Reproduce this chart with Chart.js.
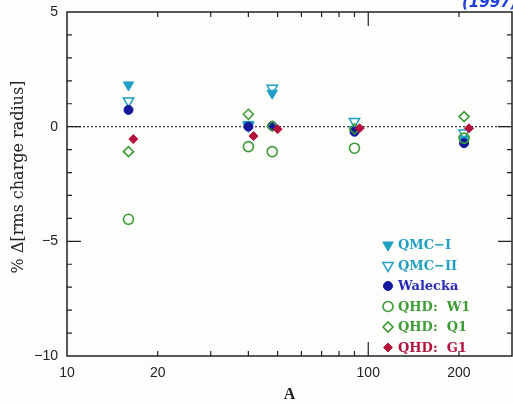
<!DOCTYPE html>
<html>
<head>
<meta charset="utf-8">
<script src="https://cdn.jsdelivr.net/npm/chart.js@4/dist/chart.umd.min.js"></script>
<style>
html,body{margin:0;padding:0;background:#fdfdfb;}
#wrap{width:513px;height:404px;position:relative;}
</style>
</head>
<body>
<div id="wrap"><canvas id="c" width="513" height="404"></canvas></div>
<script>
// Nuclei: 16O, 40Ca, 48Ca, 90Zr, 208Pb
const nuclei = ['16O', '40Ca', '48Ca', '90Zr', '208Pb'];
const massA = [16, 40, 48, 90, 208];
const massG1 = [16.6, 41.6, 50, 93.6, 216]; // G1 points plotted slightly offset
const qmc1 = [1.82, 0.10, 1.46, -0.12, -0.55];
const qmc2 = [1.12, 0.05, 1.67, 0.22, -0.28];
const walecka = [0.73, 0.0, 0.03, -0.22, -0.72];
const w1 = [-4.04, -0.87, -1.09, -0.94, -0.50];
const q1 = [-1.09, 0.54, 0.02, -0.10, 0.44];
const g1 = [-0.54, -0.41, -0.11, -0.07, -0.07];
const xTickLabels = [10, 20, 100, 200];
const yTickLabels = [-10, -5, 0, 5];

const CYAN = '#1f9fc4', BLUE = '#14169c', BLUE_TXT = '#2b2bb8', GREEN = '#3d9c36', RED = '#b3103c';

function pts(xs, ys) { return xs.map((x, i) => ({x: x, y: ys[i]})); }

const datasets = [
  {label: 'QMC\u2212I', data: pts(massA, qmc1), pointStyle: 'triangle', rotation: 180, pointRadius: 6,
   backgroundColor: CYAN, borderColor: CYAN, borderWidth: 1, order: 5, txt: CYAN},
  {label: 'QMC\u2212II', data: pts(massA, qmc2), pointStyle: 'triangle', rotation: 180, pointRadius: 6,
   backgroundColor: 'rgba(0,0,0,0)', borderColor: CYAN, borderWidth: 1.5, order: 4, txt: CYAN},
  {label: 'Walecka', data: pts(massA, walecka), pointStyle: 'circle', pointRadius: 4.5,
   backgroundColor: BLUE, borderColor: BLUE, borderWidth: 1, order: 3, txt: BLUE_TXT},
  {label: 'QHD:  W1', data: pts(massA, w1), pointStyle: 'circle', pointRadius: 5,
   backgroundColor: 'rgba(0,0,0,0)', borderColor: GREEN, borderWidth: 1.6, order: 2, txt: GREEN},
  {label: 'QHD:  Q1', data: pts(massA, q1), pointStyle: 'rectRot', pointRadius: 5,
   backgroundColor: 'rgba(0,0,0,0)', borderColor: GREEN, borderWidth: 1.6, order: 1, txt: GREEN},
  {label: 'QHD:  G1', data: pts(massG1, g1), pointStyle: 'rectRot', pointRadius: 4.5,
   backgroundColor: RED, borderColor: RED, borderWidth: 1, order: 0, txt: RED}
];
datasets.forEach(d => { d.showLine = false; d.pointRotation = d.rotation || 0; d.pointBorderWidth = d.borderWidth; d.pointBackgroundColor = d.backgroundColor; d.pointBorderColor = d.borderColor; });

const framePlugin = {
  id: 'frame',
  beforeDatasetsDraw(chart) {
    const {ctx, chartArea: a, scales: {x, y}} = chart;
    ctx.save();
    // dotted zero line
    const y0 = y.getPixelForValue(0);
    ctx.strokeStyle = '#333'; ctx.lineWidth = 1.2; ctx.setLineDash([2, 2]);
    ctx.beginPath(); ctx.moveTo(a.left, y0); ctx.lineTo(a.right, y0); ctx.stroke();
    ctx.setLineDash([]);
    // frame
    ctx.strokeStyle = '#222'; ctx.lineWidth = 1.5;
    ctx.strokeRect(a.left, a.top, a.right - a.left, a.bottom - a.top);
    // x ticks
    ctx.lineWidth = 1.2;
    const xt = [20, 30, 40, 50, 60, 70, 80, 90, 100, 200];
    xt.forEach(v => {
      const px = x.getPixelForValue(v);
      const L = (v === 100) ? 14 : 5;
      ctx.beginPath();
      ctx.moveTo(px, a.bottom); ctx.lineTo(px, a.bottom - L);
      ctx.moveTo(px, a.top); ctx.lineTo(px, a.top + L);
      ctx.stroke();
    });
    // y ticks
    for (let v = -9; v <= 4; v++) {
      const py = y.getPixelForValue(v);
      const L = (v % 5 === 0) ? 14 : 5;
      ctx.beginPath();
      ctx.moveTo(a.left, py); ctx.lineTo(a.left + L, py);
      ctx.moveTo(a.right, py); ctx.lineTo(a.right - L, py);
      ctx.stroke();
    }
    ctx.restore();
  },
  afterDraw(chart) {
    const {ctx, chartArea: a} = chart;
    ctx.save();
    // legend
    const lx = 388, ly0 = 245, dy = 20.5;
    datasets.forEach((d, i) => {
      const yy = ly0 + i * dy;
      ctx.fillStyle = d.backgroundColor; ctx.strokeStyle = d.borderColor; ctx.lineWidth = d.borderWidth;
      Chart.helpers.drawPoint(ctx, {pointStyle: d.pointStyle, rotation: d.rotation || 0, radius: d.pointRadius, borderWidth: d.borderWidth}, lx, yy);
      ctx.fillStyle = d.txt;
      ctx.font = 'bold 13px "DejaVu Serif", serif';
      ctx.textBaseline = 'middle'; ctx.textAlign = 'left';
      ctx.fillText(d.label, lx + 10, yy + 1);
    });
    // axis titles
    ctx.fillStyle = '#222';
    ctx.font = 'bold 16px "Liberation Serif", serif';
    ctx.textAlign = 'center'; ctx.textBaseline = 'middle';
    ctx.fillText('A', (a.left + a.right) / 2, 395);
    ctx.save();
    ctx.translate(19, 177); ctx.rotate(-Math.PI / 2);
    ctx.font = '16px "DejaVu Serif", serif';
    ctx.fillText('% \u0394[rms charge radius]', 0, 0);
    ctx.restore();
    // handwritten note at top right (mostly cut off)
    ctx.fillStyle = '#1f3fe0';
    ctx.font = 'italic bold 15px "DejaVu Sans", sans-serif';
    ctx.textAlign = 'left'; ctx.textBaseline = 'alphabetic';
    ctx.fillText('(1997)', 462, 7);
    ctx.restore();
  }
};

new Chart(document.getElementById('c'), {
  type: 'scatter',
  data: {datasets: datasets},
  plugins: [framePlugin],
  options: {
    responsive: false, animation: false, devicePixelRatio: 1,
    layout: {autoPadding: false, padding: {left: 0, right: 1, top: 12, bottom: 0}},
    plugins: {legend: {display: false}, tooltip: {enabled: false}},
    elements: {point: {hoverRadius: 0}},
    scales: {
      x: {
        type: 'logarithmic', min: 10, max: 300,
        grid: {display: false, drawTicks: false}, border: {display: false},
        afterBuildTicks(s) { s.ticks = xTickLabels.map(v => ({value: v})); },
        afterFit(s) { s.height = 48; s.paddingLeft = 0; s.paddingRight = 0; },
        ticks: {
          autoSkip: false, maxRotation: 0, minRotation: 0, padding: 9,
          color: '#222', font: {family: '"Liberation Sans", sans-serif', size: 14},
          callback: v => String(v)
        }
      },
      y: {
        type: 'linear', min: -10, max: 5,
        grid: {display: false, drawTicks: false}, border: {display: false},
        afterBuildTicks(s) { s.ticks = yTickLabels.map(v => ({value: v})); },
        afterFit(s) { s.width = 67; s.paddingTop = 0; s.paddingBottom = 0; },
        ticks: {
          padding: 9, color: '#222', font: {family: '"Liberation Sans", sans-serif', size: 14},
          callback: v => (v < 0 ? '\u2212' + Math.abs(v) : String(v))
        }
      }
    }
  }
});
</script>
</body>
</html>
